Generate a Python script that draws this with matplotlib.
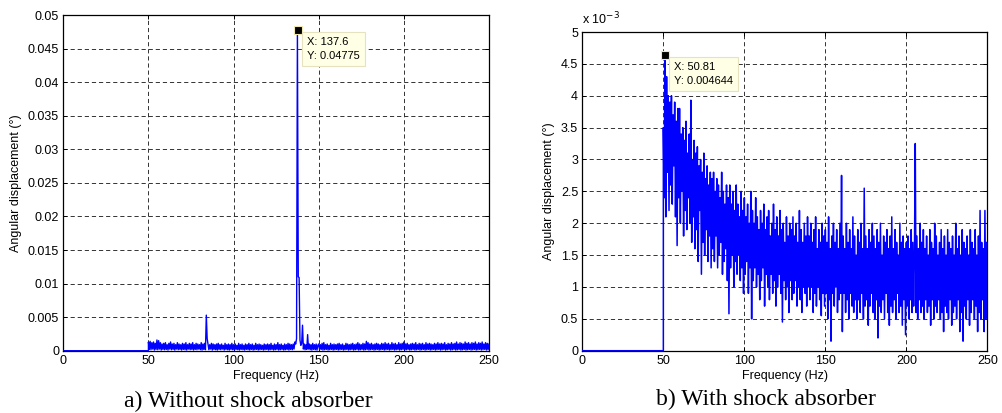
import numpy as np
import matplotlib
matplotlib.use("Agg")
import matplotlib.pyplot as plt
from matplotlib.ticker import FuncFormatter

plt.rcParams['font.family'] = ['Liberation Sans', 'DejaVu Sans']
plt.rcParams['font.size'] = 9

# spectrum below 50 Hz is zero in both measurements (high-pass)
freq_quiet = [0, 50]
amp_quiet = [0, 0]

# 50..250 Hz in 0.5 Hz steps, amplitudes in units of 1e-3 deg
freq_step = 0.5

# a) without shock absorber
amp_a = [
    1.3, 0.2, 1.4, 0.15, 1.2, 0.25, 1.3, 0.1, 1.1, 0.2, 1.6, 0.15, 1.5, 0.25, 1.2, 0.1, 1.0, 0.2, 1.1, 0.15,
    1.2, 0.2, 0.9, 0.1, 1.1, 0.25, 1.3, 0.15, 1.0, 0.2, 1.1, 0.1, 0.9, 0.25, 1.2, 0.15, 1.0, 0.2, 0.9, 0.1,
    1.1, 0.2, 1.0, 0.15, 1.2, 0.1, 0.9, 0.25, 1.1, 0.15, 1.0, 0.2, 1.2, 0.1, 0.9, 0.2, 1.1, 0.15, 1.0, 0.25,
    0.9, 0.15, 1.2, 0.1, 1.0, 0.2, 1.1, 0.15, 5.3, 1.8, 1.0, 0.15, 0.9, 0.25, 1.1, 0.1, 1.0, 0.2, 0.9, 0.15,
    1.0, 0.1, 1.1, 0.2, 0.9, 0.15, 1.0, 0.25, 0.8, 0.1, 1.1, 0.2, 0.9, 0.15, 1.0, 0.1, 0.9, 0.2, 1.1, 0.15,
    0.9, 0.1, 1.0, 0.2, 0.8, 0.15, 1.1, 0.1, 0.9, 0.2, 1.0, 0.15, 0.8, 0.1, 1.0, 0.2, 0.9, 0.15, 1.1, 0.1,
    0.9, 0.2, 1.0, 0.1, 0.8, 0.15, 1.1, 0.2, 0.9, 0.1, 1.0, 0.15, 0.9, 0.2, 0.8, 0.1, 1.0, 0.15, 0.9, 0.2,
    1.0, 0.1, 0.9, 0.15, 1.1, 0.2, 0.8, 0.1, 1.0, 0.15, 0.9, 0.2, 1.2, 0.1, 0.9, 0.15, 1.0, 0.2, 0.8, 0.1,
    1.0, 0.15, 0.9, 0.2, 1.1, 0.1, 1.0, 0.2, 0.9, 0.15, 1.0, 0.25, 1.3, 1.0, 1.8, 47.75, 11.0, 10.9, 1.6, 0.8,
    1.1, 3.8, 0.25, 1.0, 0.15, 0.9, 0.2, 2.4, 0.25, 1.0, 0.15, 0.9, 0.1, 1.1, 0.2, 0.9, 0.15, 1.0, 0.1, 0.8,
    1.0, 0.15, 0.9, 0.2, 1.1, 0.1, 1.2, 0.15, 0.9, 0.2, 1.0, 0.1, 0.8, 0.15, 1.1, 0.2, 0.9, 0.1, 1.0, 0.15,
    0.9, 0.2, 1.0, 0.1, 1.1, 0.15, 0.9, 0.2, 1.0, 0.1, 0.8, 0.15, 1.1, 0.2, 1.0, 0.1, 0.9, 0.15, 1.0, 0.2,
    1.1, 0.1, 0.9, 0.15, 1.0, 0.2, 1.2, 0.1, 1.0, 0.15, 0.9, 0.2, 1.1, 0.1, 1.0, 0.15, 1.4, 0.2, 1.2, 0.1,
    1.0, 0.15, 1.1, 0.2, 0.9, 0.1, 1.0, 0.15, 1.1, 0.2, 1.0, 0.1, 0.9, 0.15, 1.1, 0.2, 1.0, 0.1, 1.2, 0.15,
    1.0, 0.2, 1.1, 0.1, 0.9, 0.15, 1.2, 0.2, 1.0, 0.1, 1.1, 0.15, 0.9, 0.2, 1.2, 0.1, 1.0, 0.15, 1.1, 0.2,
    1.3, 0.1, 1.0, 0.15, 1.1, 0.2, 0.9, 0.1, 1.0, 0.15, 1.1, 0.2, 1.0, 0.1, 1.2, 0.15, 0.9, 0.2, 1.1, 0.1,
    1.0, 0.15, 1.1, 0.2, 0.9, 0.1, 1.2, 0.15, 1.0, 0.2, 1.1, 0.1, 1.0, 0.15, 0.9, 0.2, 1.1, 0.1, 1.0, 0.15,
    1.2, 0.2, 1.0, 0.1, 1.1, 0.15, 1.0, 0.2, 1.2, 0.1, 0.9, 0.15, 1.1, 0.2, 1.0, 0.1, 1.2, 0.15, 1.0, 0.2,
    1.1, 0.1, 1.3, 0.15, 1.0, 0.2, 1.2, 0.1, 1.1, 0.15, 1.0, 0.2, 1.3, 0.1, 1.1, 0.15, 1.2, 0.2, 1.0, 0.1,
    1.2, 0.15, 1.1, 0.2, 1.3, 0.1, 1.0, 0.15, 1.2, 0.2, 1.1, 0.1, 1.3, 0.15, 1.0, 0.2, 1.2, 0.1, 1.1, 0.15,
    1.0,
]

# b) with shock absorber
amp_b = [
    3.5, 2.4, 4.64, 2.1, 4.3, 2.8, 4.0, 2.2, 3.9, 2.6, 4.0, 2.3, 3.7, 2.9, 3.9, 2.1, 3.6, 1.65, 3.8, 2.4,
    3.8, 2.0, 3.4, 2.5, 3.5, 1.8, 3.3, 2.2, 3.6, 1.9, 3.1, 2.4, 3.4, 2.0, 3.93, 1.7, 3.0, 2.1, 3.3, 1.6,
    3.1, 1.9, 3.2, 1.4, 2.9, 2.2, 3.0, 1.2, 2.8, 1.7, 3.1, 1.5, 2.7, 1.9, 2.9, 1.4, 2.6, 1.8, 2.8, 1.3,
    2.7, 1.6, 2.8, 1.4, 2.5, 1.8, 2.7, 1.3, 2.6, 1.5, 2.4, 1.7, 2.8, 1.2, 2.5, 1.4, 2.3, 1.6, 2.6, 1.1,
    2.4, 0.58, 2.6, 1.3, 2.3, 1.5, 2.5, 1.0, 2.2, 1.4, 2.6, 1.2, 2.3, 1.5, 2.1, 1.1, 2.5, 1.3, 2.2, 0.9,
    2.4, 1.2, 2.1, 1.4, 2.3, 0.9, 2.0, 1.3, 2.5, 0.5, 2.2, 1.1, 2.0, 1.3, 2.4, 1.0, 2.1, 1.2, 1.9, 0.8,
    2.2, 1.1, 2.0, 1.3, 2.3, 0.7, 1.9, 1.2, 2.1, 1.0, 2.2, 0.8, 1.8, 1.2, 2.0, 0.9, 2.3, 1.1, 1.9, 0.7,
    2.1, 1.0, 1.8, 1.2, 2.2, 0.9, 1.9, 0.45, 2.0, 1.1, 1.7, 0.8, 2.1, 1.0, 1.8, 0.6, 2.0, 1.1, 1.9, 0.8,
    2.1, 0.9, 1.8, 1.1, 2.0, 0.7, 1.7, 1.0, 2.2, 0.8, 1.9, 0.6, 1.7, 1.0, 2.0, 0.9, 1.8, 0.7, 2.1, 1.0,
    1.8, 0.8, 2.0, 1.0, 1.7, 0.6, 1.9, 0.9, 2.1, 0.7, 1.6, 1.0, 1.9, 0.8, 1.7, 0.55, 2.0, 0.9, 1.8, 0.7,
    1.9, 0.9, 1.7, 0.5, 2.1, 0.8, 1.6, 0.15, 1.8, 0.9, 2.0, 0.7, 1.7, 1.0, 1.9, 0.6, 1.6, 0.8, 2.0, 0.9,
    2.75, 0.3, 1.8, 0.9, 1.6, 0.6, 2.0, 0.8, 1.7, 0.5, 1.9, 0.9, 1.6, 0.7, 2.1, 0.6, 1.8, 0.8, 1.5, 0.5,
    1.9, 0.8, 1.7, 0.6, 2.0, 0.9, 1.6, 0.5, 2.55, 0.7, 1.8, 0.8, 1.6, 0.4, 1.9, 0.7, 1.7, 0.9, 2.0, 0.6,
    1.8, 0.5, 1.6, 0.8, 1.9, 0.2, 1.7, 0.7, 2.0, 0.6, 1.5, 0.8, 1.8, 0.5, 1.7, 0.9, 1.9, 0.6, 1.6, 0.4,
    1.8, 0.7, 2.1, 0.6, 1.6, 0.8, 1.9, 0.5, 1.7, 0.9, 1.5, 0.6, 2.0, 0.7, 1.7, 0.4, 1.8, 0.8, 1.6, 0.25,
    1.7, 0.7, 1.8, 0.5, 1.6, 0.8, 1.9, 0.6, 1.7, 0.7, 1.5, 3.25, 0.6, 1.8, 0.5, 1.6, 0.8, 2.0, 0.6, 1.7,
    0.7, 1.9, 0.5, 1.6, 0.8, 1.8, 0.6, 1.5, 0.7, 1.9, 0.4, 1.7, 0.8, 1.6, 0.5, 2.0, 0.7, 1.8, 0.6, 1.5,
    0.8, 1.7, 0.5, 1.9, 0.6, 1.6, 0.3, 1.8, 0.7, 1.5, 0.6, 1.9, 0.5, 1.7, 0.8, 1.6, 0.4, 1.8, 0.6, 1.5,
    0.7, 2.0, 0.5, 1.6, 0.8, 1.8, 0.3, 1.5, 0.6, 1.9, 0.15, 1.7, 0.7, 1.6, 0.5, 1.8, 0.8, 1.5, 0.4, 1.9,
    0.6, 1.7, 0.8, 1.6, 0.5, 1.9, 0.7, 1.5, 0.3, 1.8, 0.6, 2.2, 0.5, 1.7, 0.8, 1.6, 0.3, 2.2, 0.5, 1.7,
    0.9,
]

# data tips shown in the original figure
tip_a = (137.6, 0.04775)
tip_b = (50.81, 0.004644)

captions = ["a) Without shock absorber", "b) With shock absorber"]


def spectrum(amp):
    f = 50 + freq_step * np.arange(len(amp))
    x = np.concatenate([freq_quiet, f])
    y = np.concatenate([amp_quiet, np.array(amp) * 1e-3])
    return x, y


def matlab_axes(ax, ymax, yticks):
    ax.set_xlim(0, 250)
    ax.set_ylim(0, ymax)
    ax.set_xticks([0, 50, 100, 150, 200, 250])
    ax.set_yticks(yticks)
    ax.grid(True, color='#333333', linestyle=(0, (4.3, 3.0)), linewidth=0.7)
    ax.tick_params(direction='in', top=True, right=True, length=3, width=0.7, pad=3)
    for s in ax.spines.values():
        s.set_linewidth(0.9)
    ax.set_xlabel('Frequency (Hz)', labelpad=2)
    ax.set_ylabel('Angular displacement (°)', labelpad=4)


def data_tip(ax, x, y, xt, yt):
    ax.plot([x], [y], 's', color='k', markersize=5.5, markeredgecolor='#f0e8b0',
            markeredgewidth=0.8, zorder=6, clip_on=False)
    ax.annotate('X: %s\nY: %s' % (xt, yt), xy=(x, y), xytext=(7, -5),
                textcoords='offset points', ha='left', va='top', fontsize=8,
                linespacing=1.5, zorder=7,
                bbox=dict(boxstyle='square,pad=0.45', fc='#ffffe6', ec='#e6e2c0', lw=0.8))


fig = plt.figure(figsize=(10.03, 4.13), dpi=100)
ax1 = fig.add_axes([0.0631, 0.1508, 0.4244, 0.8128])
ax2 = fig.add_axes([0.5806, 0.1508, 0.4038, 0.7717])

xa, ya = spectrum(amp_a)
ax1.plot(xa, ya, color='#0000ff', linewidth=1.0, zorder=3)
matlab_axes(ax1, 0.05, np.arange(0, 0.0501, 0.005))
ax1.yaxis.set_major_formatter(FuncFormatter(lambda v, p: ('%.3f' % v).rstrip('0').rstrip('.') if v else '0'))
data_tip(ax1, tip_a[0], tip_a[1], '137.6', '0.04775')

xb, yb = spectrum(amp_b)
ax2.plot(xb, yb, color='#0000ff', linewidth=1.1, zorder=3)
matlab_axes(ax2, 0.005, np.arange(0, 0.00501, 0.0005))
ax2.yaxis.set_major_formatter(FuncFormatter(lambda v, p: ('%.1f' % (v * 1e3)).rstrip('0').rstrip('.')))
ax2.text(0.0, 1.015, r'x 10$^{-3}$', transform=ax2.transAxes, ha='left', va='bottom', fontsize=9)
data_tip(ax2, tip_b[0], tip_b[1], '50.81', '0.004644')

fig.text(0.248, 0.027, captions[0], ha='center', va='center', fontsize=17, family='Liberation Serif')
fig.text(0.764, 0.032, captions[1], ha='center', va='center', fontsize=17, family='Liberation Serif')

fig.savefig('out.png', dpi=100)
